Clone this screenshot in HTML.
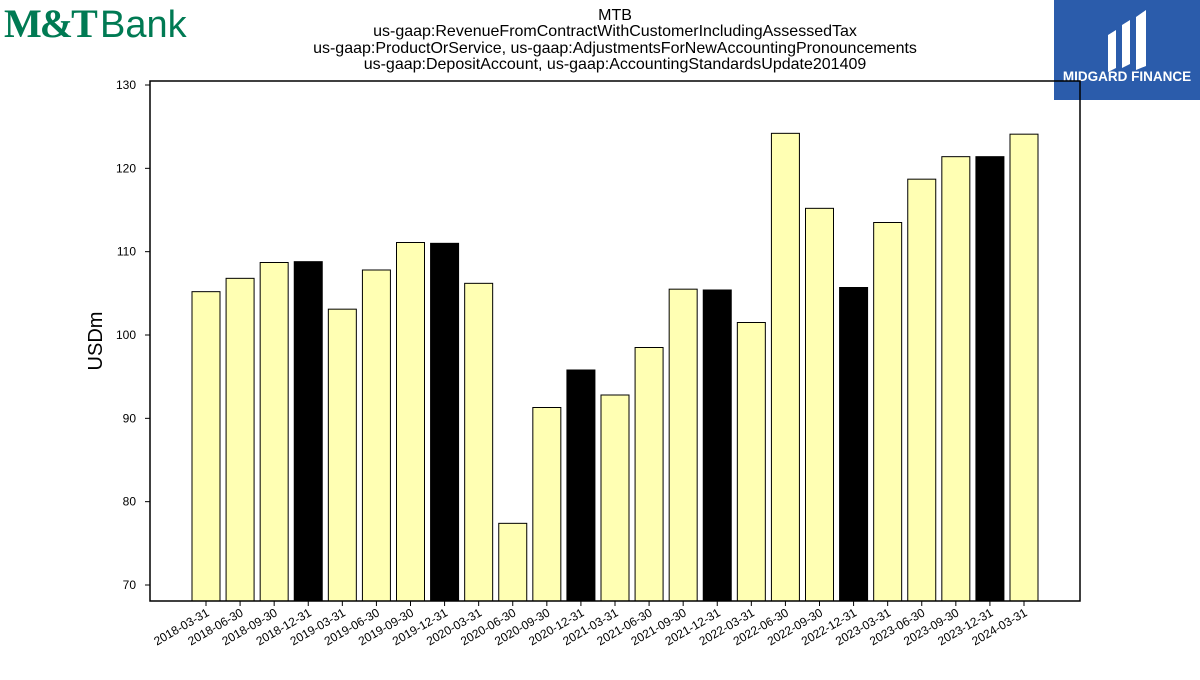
<!DOCTYPE html>
<html><head><meta charset="utf-8"><style>
body{margin:0;background:#fff;width:1200px;height:675px;overflow:hidden;font-family:"Liberation Sans",sans-serif}
</style></head><body>
<svg width="1200" height="675" xmlns="http://www.w3.org/2000/svg">
<g>
<text x="4" y="37" font-family="Liberation Serif" font-weight="bold" font-size="40" fill="#007a53" letter-spacing="-2">M&amp;T</text>
<text x="100" y="37" font-family="Liberation Sans" font-size="38" fill="#007a53">Bank</text>
</g>
<g>
<rect x="1054" y="0" width="146" height="100" fill="#2b5cab"/>
<path d="M1108 35 L1116 30 L1116 68 L1108 72 Z M1122 25 L1130 20 L1130 64 L1122 68 Z M1136 17 L1146 10 L1146 66 L1136 70 Z" fill="#fff"/>
<text x="1127" y="81" text-anchor="middle" font-size="13.5" font-weight="bold" fill="#fff">MIDGARD FINANCE</text>
</g>
<g font-size="16" text-anchor="middle" fill="#000">
<text x="615" y="20">MTB</text>
<text x="615" y="36">us-gaap:RevenueFromContractWithCustomerIncludingAssessedTax</text>
<text x="615" y="53">us-gaap:ProductOrService, us-gaap:AdjustmentsForNewAccountingPronouncements</text>
<text x="615" y="69">us-gaap:DepositAccount, us-gaap:AccountingStandardsUpdate201409</text>
</g>
<text x="102" y="341" font-size="20" text-anchor="middle" transform="rotate(-90 102 341)">USDm</text>
<g id="bars"></g><g id="yt"></g><g id="xt"></g>
<rect x="150" y="81" width="930" height="520" fill="none" stroke="#000" stroke-width="1.5"/>
</svg>
<script>
const categories=["2018-03-31","2018-06-30","2018-09-30","2018-12-31","2019-03-31","2019-06-30","2019-09-30","2019-12-31","2020-03-31","2020-06-30","2020-09-30","2020-12-31","2021-03-31","2021-06-30","2021-09-30","2021-12-31","2022-03-31","2022-06-30","2022-09-30","2022-12-31","2023-03-31","2023-06-30","2023-09-30","2023-12-31","2024-03-31"];
const values=[105.2,106.8,108.7,108.8,103.1,107.8,111.1,111.0,106.2,77.4,91.3,95.8,92.8,98.5,105.5,105.4,101.5,124.2,115.2,105.7,113.5,118.7,121.4,121.4,124.1];
const yTicks=[70,80,90,100,110,120,130];
const NS="http://www.w3.org/2000/svg";
const yMin=68.08,yMax=130.48,plotTop=81,plotBot=601;
function yScale(v){return plotBot-(v-yMin)/(yMax-yMin)*(plotBot-plotTop);}
function xScale(i){return 206+i*(1024-206)/(categories.length-1);}
const bars=document.getElementById('bars'),yt=document.getElementById('yt'),xt=document.getElementById('xt');
categories.forEach((c,i)=>{
 const r=document.createElementNS(NS,'rect');
 
 
 r.setAttribute('x',xScale(i)-14);r.setAttribute('width',28);
 r.setAttribute('y',yScale(values[i]));r.setAttribute('height',plotBot-yScale(values[i]));
 r.setAttribute('fill',c.endsWith('12-31')?'#000':'#ffffb3');
 r.setAttribute('stroke','#000');r.setAttribute('stroke-width','1');
 bars.appendChild(r);
 const t=document.createElementNS(NS,'line');
 
 
 t.setAttribute('x1',xScale(i));t.setAttribute('x2',xScale(i));t.setAttribute('y1',plotBot);t.setAttribute('y2',plotBot+5);t.setAttribute('stroke','#000');
 xt.appendChild(t);
 const l=document.createElementNS(NS,'text');
 
 
 l.setAttribute('font-size','12');l.setAttribute('text-anchor','end');
 l.setAttribute('transform','translate('+(xScale(i)+4)+','+(plotBot+14)+') rotate(-30)');
 l.textContent=c;xt.appendChild(l);
});
yTicks.forEach(v=>{
 const t=document.createElementNS(NS,'line');
 
 
 t.setAttribute('x1',145);t.setAttribute('x2',150);t.setAttribute('y1',yScale(v));t.setAttribute('y2',yScale(v));t.setAttribute('stroke','#000');
 yt.appendChild(t);
 const l=document.createElementNS(NS,'text');
 
 
 l.setAttribute('font-size','12');l.setAttribute('text-anchor','end');
 l.setAttribute('x',136);l.setAttribute('y',yScale(v)+4);
 l.textContent=v;yt.appendChild(l);
});
</script>
</body></html>
